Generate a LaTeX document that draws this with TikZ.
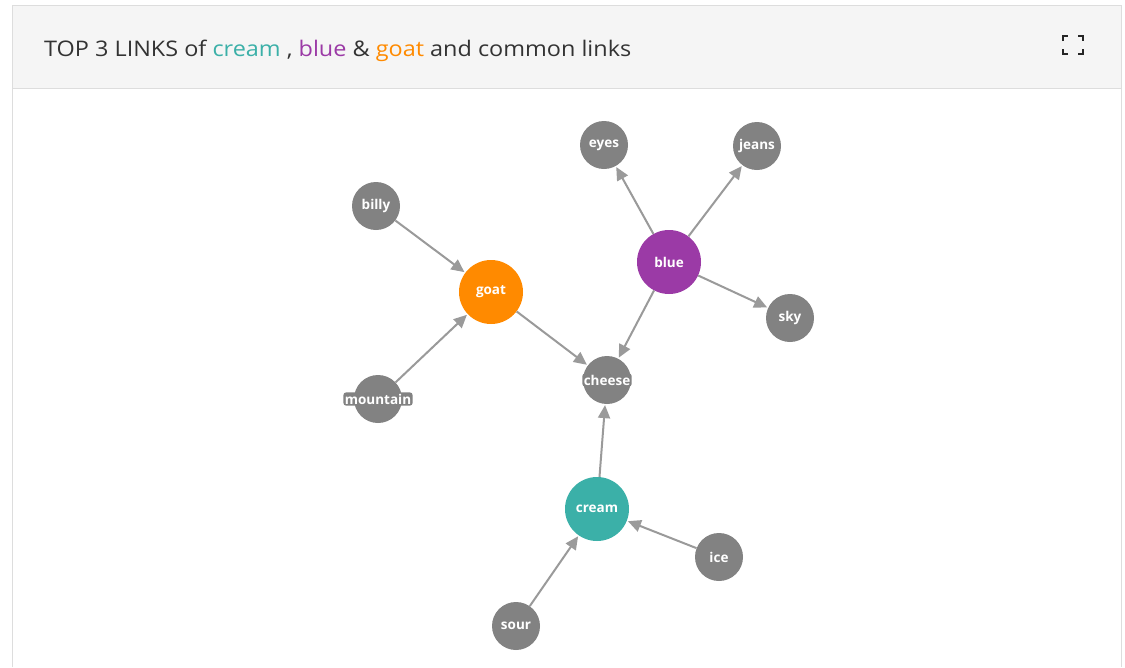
\documentclass[tikz,border=0pt]{standalone}
\usepackage{fontspec}
\setmainfont{Open Sans}
\usetikzlibrary{arrows.meta,calc}
\definecolor{nodegray}{HTML}{828282}
\definecolor{edgegray}{HTML}{9A9A9A}
\definecolor{creamc}{HTML}{3BB0A8}
\definecolor{bluec}{HTML}{9B3AA6}
\definecolor{goatc}{HTML}{FF8A00}
\definecolor{headbg}{HTML}{F5F5F5}
\definecolor{bordc}{HTML}{DDDDDD}
\definecolor{titlec}{HTML}{333333}
\begin{document}
\begin{tikzpicture}[x=1pt,y=-1pt,
  leaf/.style={circle,fill=nodegray,minimum size=48pt,inner sep=0pt},
  hub/.style={circle,minimum size=64pt,inner sep=0pt},
  lbl/.style={text=white,font=\fontsize{13.5}{13.5}\selectfont\bfseries,fill=nodegray,rounded corners=3pt,inner sep=1.5pt},
  link/.style={draw=edgegray,line width=2pt,-{Triangle[length=13pt,width=12pt]},shorten >=1pt}
]
\useasboundingbox (0,0) rectangle (1125,667);
\fill[white] (0,0) rectangle (1125,667);
\fill[headbg] (12,5) rectangle (1121,88);
\draw[bordc,line width=1pt] (12,667) -- (12,5) -- (1121,5) -- (1121,667);
\draw[bordc,line width=1pt] (12,88) -- (1121,88);
\node[anchor=west,text=titlec,font=\fontsize{21.5}{24}\selectfont,inner sep=0pt] (title) at (44,51)
  {\scalebox{1.09}[1]{TOP 3 LINKS of \textcolor{creamc}{cream} , \textcolor{bluec}{blue} \& \textcolor{goatc}{goat} and common links}};
% expand icon
\coordinate (ic) at (1073,45);
\draw[black!85,line width=2.8pt]
  ($(ic)+(-10,-4)$) -- ($(ic)+(-10,-9)$) -- ($(ic)+(-5,-9)$)
  ($(ic)+(5,-9)$) -- ($(ic)+(10,-9)$) -- ($(ic)+(10,-4)$)
  ($(ic)+(10,4)$) -- ($(ic)+(10,9)$) -- ($(ic)+(5,9)$)
  ($(ic)+(-5,9)$) -- ($(ic)+(-10,9)$) -- ($(ic)+(-10,4)$);
% nodes
\node[leaf] (eyes) at (604,145) {};
\node[leaf] (jeans) at (757,146) {};
\node[leaf] (billy) at (376,206) {};
\node[hub,fill=bluec] (blue) at (669,262) {};
\node[hub,fill=goatc] (goat) at (491,292) {};
\node[leaf] (sky) at (790,318) {};
\node[leaf] (cheese) at (607,380) {};
\node[leaf] (mountain) at (378,399) {};
\node[hub,fill=creamc] (cream) at (597,509) {};
\node[leaf] (ice) at (719,557) {};
\node[leaf] (sour) at (516,626) {};
% edges
\draw[link] (billy) -- (goat);
\draw[link] (mountain) -- (goat);
\draw[link] (goat) -- (cheese);
\draw[link] (blue) -- (eyes);
\draw[link] (blue) -- (jeans);
\draw[link] (blue) -- (sky);
\draw[link] (blue) -- (cheese);
\draw[link] (cream) -- (cheese);
\draw[link] (ice) -- (cream);
\draw[link] (sour) -- (cream);
% labels
\node[lbl] (leyes) at (eyes) {eyes};
\node[lbl] (ljeans) at (jeans) {jeans};
\node[lbl] (lbilly) at (billy) {billy};
\node[lbl,fill=bluec] (lblue) at (blue) {blue};
\node[lbl,fill=goatc] (lgoat) at (goat) {goat};
\node[lbl] (lsky) at (sky) {sky};
\node[lbl] (lcheese) at (cheese) {cheese};
\node[lbl] (lmountain) at (mountain) {mountain};
\node[lbl,fill=creamc] (lcream) at (cream) {cream};
\node[lbl] (lice) at (ice) {ice};
\node[lbl] (lsour) at (sour) {sour};
\end{tikzpicture}
\end{document}
